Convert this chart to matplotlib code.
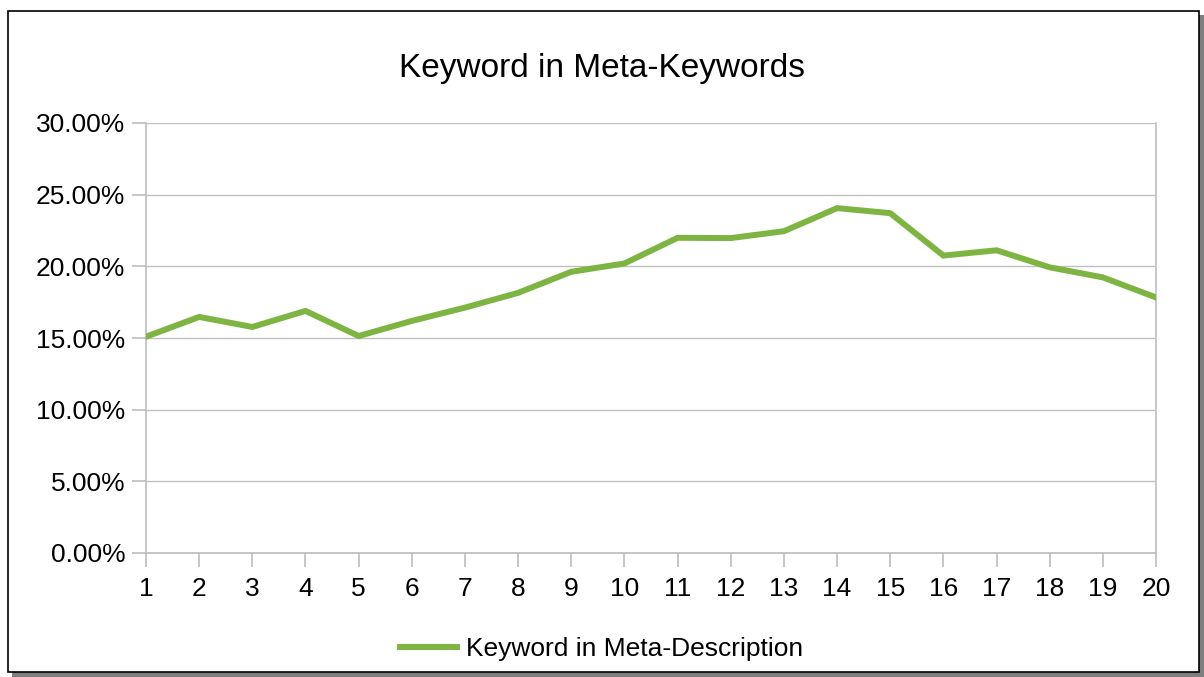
import matplotlib
matplotlib.use('Agg')
import matplotlib.pyplot as plt
from matplotlib.patches import Rectangle
from matplotlib.ticker import FuncFormatter, MultipleLocator

plt.rcParams['font.family'] = ['Liberation Sans', 'DejaVu Sans']

# share of pages with the keyword in the meta description, by rank position
positions = list(range(1, 21))
share = [15.09, 16.47, 15.77, 16.89, 15.14, 16.19, 17.12, 18.15, 19.62, 20.20,
         21.99, 21.97, 22.45, 24.06, 23.71, 20.75, 21.12, 19.93, 19.23, 17.83]
series_name = 'Keyword in Meta-Description'
title = 'Keyword in Meta-Keywords'

W, H = 1204, 677
fig = plt.figure(figsize=(W / 100, H / 100), dpi=100)

# chart frame with a drop shadow
fig.patches.append(Rectangle((12 / W, 0), (W - 12) / W, (H - 15) / H,
                             transform=fig.transFigure, facecolor='#7f7f7f',
                             edgecolor='none', zorder=0))
fig.patches.append(Rectangle((8 / W, 5 / H), (1199 - 8) / W, (672 - 11) / H,
                             transform=fig.transFigure, facecolor='white',
                             edgecolor='black', linewidth=1.2, zorder=1))

ax = fig.add_axes([146 / W, 1 - 553 / H, (1156 - 146) / W, (553 - 123) / H])
ax.set_zorder(5)
ax.set_facecolor('none')
ax.plot(positions, share, color='#7eb442', linewidth=4.3, label=series_name,
        solid_joinstyle='miter', zorder=3)

ax.set_xlim(1, 20)
ax.set_ylim(0, 30)
ax.yaxis.set_major_locator(MultipleLocator(5))
ax.yaxis.set_major_formatter(FuncFormatter(lambda v, p: '%.2f%%' % v))
ax.set_xticks(positions)
ax.grid(axis='y', color='#c0c0c0', linewidth=1)
ax.set_axisbelow(True)
for side in ['top', 'right']:
    ax.spines[side].set_visible(False)
for side in ['left', 'bottom']:
    ax.spines[side].set_color('#bdbdbd')
    ax.spines[side].set_linewidth(1.2)
ax.tick_params(axis='both', colors='#bdbdbd', labelcolor='black',
               labelsize=19, length=10, width=1.2, direction='out')
ax.tick_params(axis='y', pad=5)
ax.tick_params(axis='x', pad=7)
# right-hand edge of the plot area
ax.axvline(20, color='#c0c0c0', linewidth=1.2, clip_on=False)

fig.text(602 / W, 1 - 68 / H, title, ha='center', va='center', fontsize=24,
         zorder=6)

leg = ax.legend(loc='center', bbox_to_anchor=(602 / W, 1 - 649 / H),
                bbox_transform=fig.transFigure, frameon=False, fontsize=19,
                handlelength=2.15, handletextpad=0.35)

fig.savefig('out.png', dpi=100)
